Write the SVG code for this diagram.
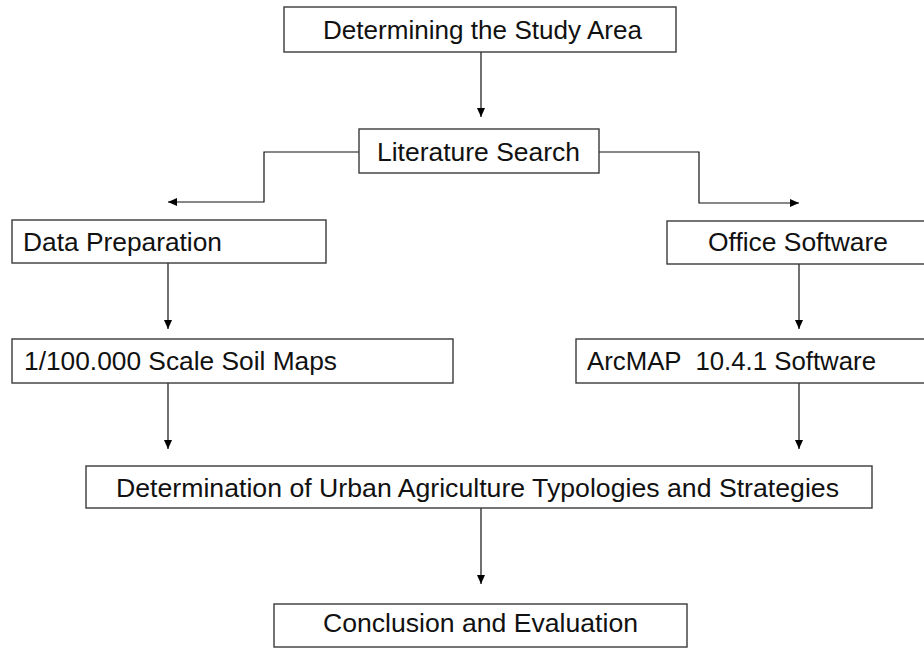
<svg xmlns="http://www.w3.org/2000/svg" width="924" height="648" viewBox="0 0 924 648">
<defs>
<marker id="ah" markerWidth="9" markerHeight="8" refX="9" refY="4" orient="auto" markerUnits="userSpaceOnUse">
<path d="M0,0 L9,4 L0,8 Z" fill="#000"/>
</marker>
<style>
.box{fill:#fff;stroke:#3a3a3a;stroke-width:1.4}
.t{font-family:"Liberation Sans",Arial,sans-serif;font-size:26px;fill:#111}
.c{text-anchor:middle}
.ln{fill:none;stroke:#111;stroke-width:1.2;marker-end:url(#ah)}
</style>
</defs>
<rect width="924" height="648" fill="#fff"/>
<g id="connectors">
<path class="ln" d="M481,52 V117"/>
<path class="ln" d="M359,152 H264 V202 H168"/>
<path class="ln" d="M599,152 H699 V203 H799"/>
<path class="ln" d="M168,263 V329"/>
<path class="ln" d="M799,264 V329"/>
<path class="ln" d="M168,383 V449"/>
<path class="ln" d="M799,383 V449"/>
<path class="ln" d="M481,508 V584"/>
</g>
<g id="n1"><rect class="box" x="284" y="7" width="392" height="45"/><text class="t" x="323" y="39" textLength="319" lengthAdjust="spacingAndGlyphs">Determining the Study Area</text></g>
<g id="n2"><rect class="box" x="359" y="129" width="240" height="44"/><text class="t" x="377" y="161" textLength="203" lengthAdjust="spacingAndGlyphs">Literature Search</text></g>
<g id="n3"><rect class="box" x="12" y="220" width="314" height="43"/><text class="t" x="23" y="251" textLength="199" lengthAdjust="spacingAndGlyphs">Data Preparation</text></g>
<g id="n4"><rect class="box" x="667" y="221" width="270" height="43"/><text class="t" x="708" y="251" textLength="180" lengthAdjust="spacingAndGlyphs">Office Software</text></g>
<g id="n5"><rect class="box" x="12" y="339" width="441" height="44"/><text class="t" x="24" y="370" textLength="313" lengthAdjust="spacingAndGlyphs">1/100.000 Scale Soil Maps</text></g>
<g id="n6"><rect class="box" x="576" y="339" width="360" height="44"/><text class="t" x="587" y="370" textLength="289" lengthAdjust="spacingAndGlyphs" xml:space="preserve">ArcMAP  10.4.1 Software</text></g>
<g id="n7"><rect class="box" x="86" y="466" width="786" height="42"/><text class="t" x="116" y="497" textLength="723" lengthAdjust="spacingAndGlyphs">Determination of Urban Agriculture Typologies and Strategies</text></g>
<g id="n8"><rect class="box" x="274" y="604" width="413" height="43"/><text class="t" x="323" y="632" textLength="315" lengthAdjust="spacingAndGlyphs">Conclusion and Evaluation</text></g>
</svg>
